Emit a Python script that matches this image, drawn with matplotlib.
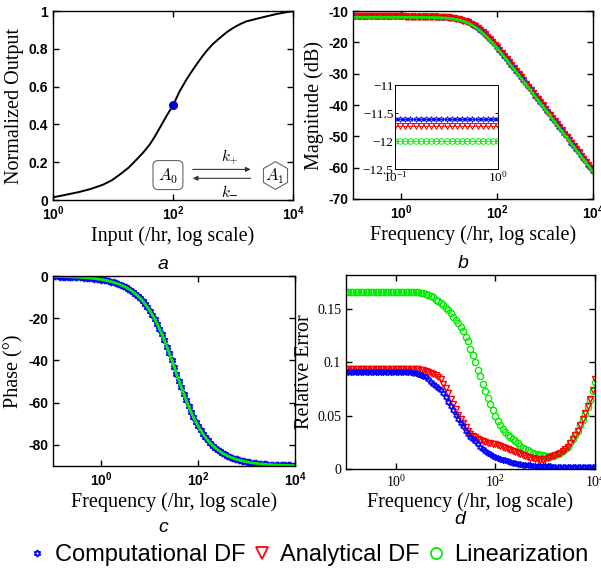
import numpy as np
import matplotlib
matplotlib.use('Agg')
import matplotlib.pyplot as plt
from matplotlib.lines import Line2D

#####################################################################
#                      SETTINGS                                     #
#####################################################################
plt.rcParams['mathtext.fontset'] = 'cm'
plt.rcParams['mathtext.default'] = 'regular'
plt.rcParams['axes.unicode_minus'] = False

### colours / markers used for the 3 methods
c_comp = '#0000ff'
c_ana = '#ff0000'
c_lin = '#00ee00'
m_star = (6, 1, 0)

label_font = dict(family='Liberation Serif', size=14.5)
tick_bold = dict(fontfamily='Liberation Sans', fontweight='bold', fontsize=10)
tick_serif = dict(fontfamily='Liberation Serif', fontsize=10)

#####################################################################
#                      DATA                   #
#####################################################################
### panel a : normalized output vs input
input_a = [1, 2.61, 4.2, 6.8, 9.5, 12.9, 18, 24.5, 32, 40.8, 50, 60, 77.4, 100, 129, 167,
           205, 245, 300, 359, 460, 600, 780, 1000, 1300, 1668, 2783, 5270, 10000]
output_a = [0.014, 0.041, 0.058, 0.081, 0.104, 0.134, 0.170, 0.213, 0.252, 0.293, 0.337, 0.381,
            0.443, 0.501, 0.575, 0.637, 0.680, 0.716, 0.755, 0.787, 0.825, 0.857, 0.887,
            0.910, 0.930, 0.945, 0.963, 0.984, 1.0]
half_point = (100, 0.501)

### frequency grid (/hr)
freq = [0.1, 0.1122, 0.1259, 0.1413, 0.1585, 0.1778, 0.1995, 0.2239, 0.2512, 0.2818,
        0.3162, 0.3548, 0.3981, 0.4467, 0.5012, 0.5623, 0.631, 0.7079, 0.7943, 0.8913,
        1.0, 1.122, 1.259, 1.413, 1.585, 1.778, 1.995, 2.239, 2.512, 2.818,
        3.162, 3.548, 3.981, 4.467, 5.012, 5.623, 6.31, 7.079, 7.943, 8.913,
        10.0, 11.22, 12.59, 14.13, 15.85, 17.78, 19.95, 22.39, 25.12, 28.18,
        31.62, 35.48, 39.81, 44.67, 50.12, 56.23, 63.1, 70.79, 79.43, 89.13,
        100.0, 112.2, 125.9, 141.3, 158.5, 177.8, 199.5, 223.9, 251.2, 281.8,
        316.2, 354.8, 398.1, 446.7, 501.2, 562.3, 631.0, 707.9, 794.3, 891.3,
        1000.0, 1122.0, 1259.0, 1413.0, 1585.0, 1778.0, 1995.0, 2239.0, 2512.0, 2818.0,
        3162.0, 3548.0, 3981.0, 4467.0, 5012.0, 5623.0, 6310.0, 7079.0, 7943.0, 8913.0,
        10000.0]

### panel b : magnitude (dB)
mag_comp = [-11.61, -11.61, -11.61, -11.61, -11.61, -11.61, -11.61, -11.61, -11.61, -11.61,
            -11.61, -11.61, -11.61, -11.61, -11.61, -11.61, -11.61, -11.61, -11.61, -11.61,
            -11.61, -11.61, -11.62, -11.62, -11.62, -11.62, -11.63, -11.63, -11.63, -11.64,
            -11.65, -11.66, -11.67, -11.68, -11.70, -11.73, -11.76, -11.80, -11.84, -11.90,
            -11.97, -12.06, -12.17, -12.30, -12.47, -12.66, -12.90, -13.18, -13.51, -13.89,
            -14.32, -14.81, -15.37, -15.97, -16.63, -17.34, -18.10, -18.89, -19.72, -20.58,
            -21.46, -22.37, -23.30, -24.23, -25.19, -26.15, -27.11, -28.09, -29.07, -30.05,
            -31.04, -32.03, -33.02, -34.01, -35.01, -36.00, -37.00, -38.00, -39.00, -40.00,
            -41.00, -42.00, -42.99, -43.99, -44.99, -45.99, -46.99, -47.99, -48.99, -49.99,
            -50.99, -51.99, -52.99, -53.99, -54.99, -55.99, -56.99, -57.99, -58.99, -59.99,
            -60.99]
mag_ana = [-11.74, -11.74, -11.74, -11.74, -11.74, -11.74, -11.74, -11.74, -11.74, -11.74,
           -11.74, -11.74, -11.74, -11.74, -11.74, -11.74, -11.74, -11.74, -11.74, -11.74,
           -11.74, -11.74, -11.75, -11.75, -11.75, -11.75, -11.76, -11.76, -11.76, -11.77,
           -11.78, -11.79, -11.80, -11.81, -11.83, -11.86, -11.89, -11.93, -11.97, -12.03,
           -12.10, -12.19, -12.30, -12.43, -12.60, -12.79, -13.03, -13.31, -13.64, -14.02,
           -14.45, -14.94, -15.50, -16.10, -16.76, -17.47, -18.23, -19.02, -19.85, -20.71,
           -21.59, -22.50, -23.43, -24.36, -25.32, -26.28, -27.24, -28.22, -29.20, -30.18,
           -31.17, -32.16, -33.15, -34.14, -35.14, -36.13, -37.13, -38.13, -39.13, -40.13,
           -41.13, -42.13, -43.12, -44.12, -45.12, -46.12, -47.12, -48.12, -49.12, -50.12,
           -51.12, -52.12, -53.12, -54.12, -55.12, -56.12, -57.12, -58.12, -59.12, -60.12,
           -61.12]
mag_lin = [-12.00, -12.00, -12.00, -12.00, -12.00, -12.00, -12.00, -12.00, -12.00, -12.00,
           -12.00, -12.00, -12.00, -12.00, -12.00, -12.00, -12.00, -12.00, -12.00, -12.00,
           -12.00, -12.00, -12.01, -12.01, -12.01, -12.01, -12.02, -12.02, -12.02, -12.03,
           -12.04, -12.05, -12.06, -12.07, -12.09, -12.12, -12.15, -12.19, -12.23, -12.29,
           -12.36, -12.45, -12.56, -12.69, -12.86, -13.05, -13.29, -13.57, -13.90, -14.28,
           -14.71, -15.20, -15.76, -16.36, -17.02, -17.73, -18.49, -19.28, -20.11, -20.97,
           -21.85, -22.76, -23.69, -24.62, -25.58, -26.54, -27.50, -28.48, -29.46, -30.44,
           -31.43, -32.42, -33.41, -34.40, -35.40, -36.39, -37.39, -38.39, -39.39, -40.39,
           -41.39, -42.39, -43.38, -44.38, -45.38, -46.38, -47.38, -48.38, -49.38, -50.38,
           -51.38, -52.38, -53.38, -54.38, -55.38, -56.38, -57.38, -58.38, -59.38, -60.38,
           -61.38]

### panel c : phase (deg), the three methods coincide
phase = [-0.17, -0.19, -0.21, -0.24, -0.27, -0.30, -0.34, -0.38, -0.42, -0.48,
         -0.53, -0.60, -0.67, -0.75, -0.85, -0.95, -1.06, -1.19, -1.34, -1.50,
         -1.69, -1.89, -2.12, -2.38, -2.67, -3.00, -3.36, -3.77, -4.23, -4.74,
         -5.32, -5.96, -6.69, -7.49, -8.39, -9.40, -10.53, -11.77, -13.16, -14.70,
         -16.40, -18.28, -20.34, -22.59, -25.02, -27.64, -30.43, -33.39, -36.49, -39.69,
         -42.96, -46.25, -49.53, -52.75, -55.88, -58.87, -61.71, -64.37, -66.84, -69.14,
         -71.24, -73.16, -74.90, -76.48, -77.91, -79.19, -80.34, -81.37, -82.30, -83.13,
         -83.87, -84.53, -85.12, -85.65, -86.12, -86.54, -86.92, -87.25, -87.55, -87.82,
         -88.05, -88.27, -88.45, -88.62, -88.77, -88.91, -89.02, -89.13, -89.23, -89.31,
         -89.38, -89.45, -89.51, -89.56, -89.61, -89.65, -89.69, -89.73, -89.76, -89.78,
         -89.81]

### panel d : relative error
err_comp = [0.091, 0.091, 0.091, 0.091, 0.091, 0.091, 0.091, 0.091, 0.091, 0.091,
            0.091, 0.091, 0.091, 0.091, 0.091, 0.091, 0.091, 0.091, 0.091, 0.091,
            0.091, 0.091, 0.091, 0.091, 0.091, 0.091, 0.091, 0.0905, 0.090, 0.089,
            0.088, 0.087, 0.086, 0.084, 0.082, 0.080, 0.078, 0.076, 0.074, 0.071,
            0.068, 0.063, 0.059, 0.055, 0.051, 0.047, 0.043, 0.040, 0.036, 0.033,
            0.030, 0.028, 0.026, 0.023, 0.021, 0.019, 0.017, 0.015, 0.014, 0.012,
            0.011, 0.0105, 0.0095, 0.0088, 0.008, 0.0072, 0.0065, 0.006, 0.0055, 0.005,
            0.0046, 0.0042, 0.0039, 0.0036, 0.0034, 0.0032, 0.003, 0.0028, 0.0027, 0.0026,
            0.0025, 0.0024, 0.0024, 0.0023, 0.0023, 0.0022, 0.0022, 0.0022, 0.0021, 0.0021,
            0.0021, 0.0021, 0.002, 0.002, 0.002, 0.002, 0.002, 0.002, 0.002, 0.002,
            0.002]
err_ana = [0.094, 0.094, 0.094, 0.094, 0.094, 0.094, 0.094, 0.094, 0.094, 0.094,
           0.094, 0.094, 0.094, 0.094, 0.094, 0.094, 0.094, 0.094, 0.094, 0.094,
           0.094, 0.094, 0.094, 0.094, 0.094, 0.094, 0.094, 0.094, 0.094, 0.094,
           0.093, 0.093, 0.092, 0.091, 0.090, 0.089, 0.088, 0.086, 0.084, 0.080,
           0.076, 0.071, 0.066, 0.061, 0.056, 0.051, 0.047, 0.043, 0.039, 0.036,
           0.033, 0.031, 0.030, 0.028, 0.027, 0.026, 0.025, 0.0245, 0.024, 0.023,
           0.023, 0.0225, 0.022, 0.021, 0.020, 0.019, 0.018, 0.017, 0.016, 0.015,
           0.014, 0.013, 0.012, 0.011, 0.0105, 0.010, 0.0095, 0.009, 0.0088, 0.0088,
           0.0092, 0.010, 0.011, 0.012, 0.013, 0.014, 0.015, 0.017, 0.019, 0.021,
           0.024, 0.028, 0.032, 0.036, 0.041, 0.047, 0.053, 0.059, 0.066, 0.074,
           0.084]
err_lin = [0.166, 0.166, 0.166, 0.166, 0.166, 0.166, 0.166, 0.166, 0.166, 0.166,
           0.166, 0.166, 0.166, 0.166, 0.166, 0.166, 0.166, 0.166, 0.166, 0.166,
           0.166, 0.166, 0.166, 0.166, 0.166, 0.166, 0.166, 0.166, 0.166, 0.166,
           0.165, 0.165, 0.164, 0.163, 0.162, 0.161, 0.159, 0.158, 0.156, 0.154,
           0.151, 0.149, 0.146, 0.143, 0.140, 0.137, 0.133, 0.129, 0.124, 0.120,
           0.113, 0.107, 0.100, 0.093, 0.087, 0.080, 0.073, 0.067, 0.061, 0.055,
           0.050, 0.045, 0.041, 0.038, 0.035, 0.032, 0.030, 0.028, 0.026, 0.024,
           0.022, 0.020, 0.019, 0.0175, 0.016, 0.015, 0.0145, 0.014, 0.0135, 0.013,
           0.0125, 0.012, 0.012, 0.0125, 0.013, 0.014, 0.015, 0.017, 0.019, 0.021,
           0.024, 0.028, 0.032, 0.036, 0.041, 0.046, 0.052, 0.058, 0.065, 0.073,
           0.082]

### tick labels
log_ticks = [1, 100, 10000]
log_labels = ['$10^{0}$', '$10^{2}$', '$10^{4}$']
a_yticks = [0, 0.2, 0.4, 0.6, 0.8, 1]
a_ylabels = ['0', '0.2', '0.4', '0.6', '0.8', '1']
b_yticks = [-70, -60, -50, -40, -30, -20, -10]
b_ylabels = ['-70', '-60', '-50', '-40', '-30', '-20', '-10']
inset_yticks = [-12.5, -12, -11.5, -11]
inset_ylabels = ['\u221212.5', '\u221212', '\u221211.5', '\u221211']
c_yticks = [-80, -60, -40, -20, 0]
c_ylabels = ['-80', '-60', '-40', '-20', '0']
d_yticks = [0, 0.05, 0.1, 0.15]
d_ylabels = ['0', '0.05', '0.1', '0.15']

#####################################################################
#                      FIGURE                                       #
#####################################################################
fig = plt.figure(figsize=(6.01, 5.71), dpi=100)

def frame(ax, lw=1.0, length=4):
    for sp in ax.spines.values():
        sp.set_linewidth(lw)
    ax.tick_params(which='both', direction='in', top=True, right=True,
                   length=length, width=lw)

### panel a
ax = fig.add_axes([0.0882, 0.6497, 0.3993, 0.331])
ax.plot(input_a, output_a, color='k', lw=1.4)
ax.plot(*half_point, 'o', color='#0000cc', ms=5.5)
ax.set_xscale('log')
ax.minorticks_off()
ax.set_xlim(1, 1e4)
ax.set_ylim(0, 1)
ax.set_xticks(log_ticks, log_labels, **tick_bold)
ax.set_yticks(a_yticks, a_ylabels, **tick_bold)
ax.set_xlabel('Input (/hr, log scale)', fontdict=label_font, labelpad=2)
ax.set_ylabel('Normalized Output', fontdict=label_font, labelpad=3)
frame(ax)
### reaction scheme
ax.text(0.479, 0.132, r'$\mathit{A}_\mathrm{0}$', transform=ax.transAxes, ha='center', va='center',
        fontsize=12, bbox=dict(boxstyle='round,pad=0.3', fc='white', ec='#666666', lw=0.8))
ax.plot(0.925, 0.132, marker='h', ms=20, mfc='white', mec='#666666', mew=0.8,
        transform=ax.transAxes, clip_on=False)
ax.text(0.925, 0.132, r'$\mathit{A}_\mathrm{1}$', transform=ax.transAxes, ha='center', va='center', fontsize=12)
ax.annotate('', xy=(0.835, 0.162), xytext=(0.571, 0.162), xycoords='axes fraction',
            arrowprops=dict(arrowstyle='-|>', color='#333333', lw=0.8, mutation_scale=7))
ax.annotate('', xy=(0.571, 0.115), xytext=(0.835, 0.115), xycoords='axes fraction',
            arrowprops=dict(arrowstyle='-|>', color='#333333', lw=0.8, mutation_scale=7))
ax.text(0.7375, 0.225, r'$\mathit{k}_\mathrm{+}$', transform=ax.transAxes, ha='center', va='center', fontsize=11)
ax.text(0.7375, 0.05, r'$\mathit{k}_{-}$', transform=ax.transAxes, ha='center', va='center', fontsize=11)

### panel b
ax = fig.add_axes([0.5874, 0.6515, 0.3993, 0.3292])
ax.plot(freq, mag_comp, ls='none', marker=m_star, ms=4.5, mfc='none', mec=c_comp, mew=1)
ax.plot(freq, mag_ana, ls='none', marker='v', ms=4, mfc='none', mec=c_ana, mew=1)
ax.plot(freq, mag_lin, color=c_lin, lw=2)
ax.set_xscale('log')
ax.minorticks_off()
ax.set_xlim(0.1, 1e4)
ax.set_ylim(-70, -10)
ax.set_xticks(log_ticks, log_labels, **tick_bold)
ax.set_yticks(b_yticks, b_ylabels, **tick_bold)
ax.set_xlabel('Frequency (/hr, log scale)', fontdict=label_font, labelpad=2)
ax.set_ylabel('Magnitude (dB)', fontdict=label_font, labelpad=3)
frame(ax)

### inset of panel b
axi = fig.add_axes([0.657, 0.704, 0.172, 0.147])
n_in = 21
axi.plot(freq[:n_in], mag_comp[:n_in], ls='-', lw=0.6, color=c_comp, marker=m_star, ms=4, mfc='none', mec=c_comp, mew=0.7)
axi.plot(freq[:n_in], mag_ana[:n_in], ls='-', lw=0.6, color=c_ana, marker='v', ms=4, mfc='none', mec=c_ana, mew=0.7)
axi.plot(freq[:n_in], mag_lin[:n_in], ls='-', lw=0.6, color=c_lin, marker='o', ms=4, mfc='none', mec=c_lin, mew=0.7)
axi.set_xscale('log')
axi.minorticks_off()
axi.set_xlim(0.1, 1)
axi.set_ylim(-12.5, -11)
axi.set_xticks([0.1, 1], ['$10^{-1}$', '$10^{0}$'], fontfamily='Liberation Serif', fontsize=9.5)
axi.set_yticks(inset_yticks, inset_ylabels, fontfamily='Liberation Serif', fontsize=9.5)
axi.tick_params(axis='both', pad=1)
frame(axi, lw=0.7, length=2)

### panel c
ax = fig.add_axes([0.0882, 0.1839, 0.4027, 0.3327])
ax.plot(freq, phase, ls='none', marker=m_star, ms=5, mfc='none', mec=c_comp, mew=1.2)
ax.plot(freq, phase, color=c_lin, lw=2)
ax.set_xscale('log')
ax.minorticks_off()
ax.set_xlim(0.1, 1e4)
ax.set_ylim(-90, 0)
ax.set_xticks(log_ticks, log_labels, **tick_bold)
ax.set_yticks(c_yticks, c_ylabels, **tick_bold)
ax.set_xlabel('Frequency (/hr, log scale)', fontdict=label_font, labelpad=2)
ax.set_ylabel('Phase (\u00b0)', fontdict=label_font, labelpad=3)
frame(ax)

### panel d
ax = fig.add_axes([0.5757, 0.1786, 0.4143, 0.3398])
ax.plot(freq, err_lin, ls='none', marker='o', ms=4.5, mfc='none', mec=c_lin, mew=1)
ax.plot(freq, err_ana, ls='none', marker='v', ms=4, mfc='none', mec=c_ana, mew=1)
ax.plot(freq, err_comp, ls='none', marker=m_star, ms=4.5, mfc='none', mec=c_comp, mew=1)
ax.set_xscale('log')
ax.minorticks_off()
ax.set_xlim(0.1, 1e4)
ax.set_ylim(0, 0.182)
ax.set_xticks(log_ticks, log_labels, **tick_serif)
ax.set_yticks(d_yticks, d_ylabels, **tick_serif)
ax.set_xlabel('Frequency (/hr, log scale)', fontdict=label_font, labelpad=2)
ax.set_ylabel('Relative Error', fontdict=label_font, labelpad=2)
frame(ax)

### panel letters
for x, y, s in [(0.271, 0.536, 'a'), (0.770, 0.539, 'b'), (0.271, 0.077, 'c'), (0.765, 0.090, 'd')]:
    fig.text(x, y, s, ha='center', va='center', fontsize=14, style='italic', family='Liberation Sans')

### shared legend
handles = [Line2D([], [], ls='none', marker=m_star, ms=5, mfc='none', mec=c_comp, mew=1.2),
           Line2D([], [], ls='none', marker='v', ms=8, mfc='none', mec=c_ana, mew=1.3),
           Line2D([], [], ls='none', marker='o', ms=8, mfc='none', mec=c_lin, mew=1.3)]
fig.legend(handles, ['Computational DF', 'Analytical DF', 'Linearization'], loc='center',
           bbox_to_anchor=(0.5125, 0.028), ncol=3, frameon=False, handlelength=0.8,
           handletextpad=0.35, columnspacing=0.3, borderpad=0,
           prop=dict(family='Liberation Sans', size=17))

plt.savefig('out.png', dpi=100)
